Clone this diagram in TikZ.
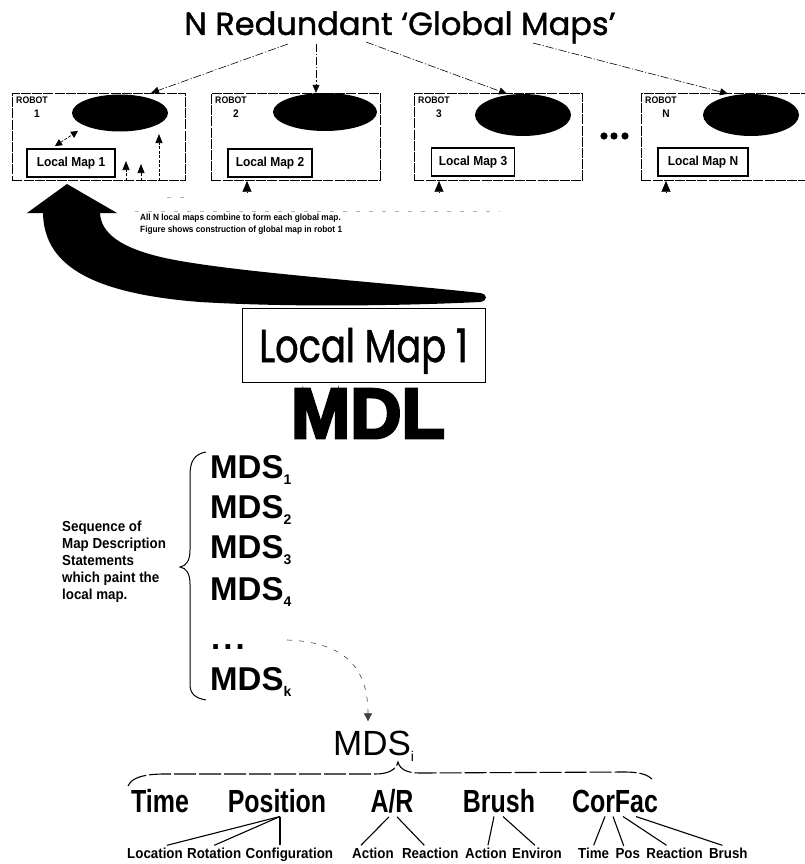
\documentclass[tikz,border=0pt]{standalone}
\usepackage{fontspec}
\setmainfont{Liberation Sans}
\newfontfamily\geofont[UprightFeatures={FakeBold=1.2}]{Poppins}
\newfontfamily\narrowbold[FakeStretch=0.92]{Liberation Sans}
\newfontfamily\childfont[FakeStretch=0.78]{Liberation Sans}
\newfontfamily\heavyfont[BoldFeatures={FakeBold=4}]{Liberation Sans}
\usetikzlibrary{shapes.geometric,arrows.meta}

\newcommand\lowsub[1]{\raisebox{-6pt}{\fontsize{14}{14}\selectfont #1}}

\begin{document}
\begin{tikzpicture}[x=1pt,y=-1pt,
  robotbox/.style={draw, line width=0.9pt, dash pattern=on 10pt off 1.2pt, inner sep=0pt, anchor=north west, minimum height=87pt},
  globalmap/.style={ellipse, fill=black, inner sep=0pt},
  mapbox/.style={draw, line width=1.8pt, inner sep=0pt, minimum height=28pt, font=\narrowbold\bfseries\fontsize{13}{13}\selectfont},
  robotlbl/.style={inner sep=0pt, font=\narrowbold\bfseries\fontsize{9.5}{9.5}\selectfont},
  robotnum/.style={inner sep=0pt, font=\narrowbold\bfseries\fontsize{11}{11}\selectfont},
  gline/.style={line width=0.6pt, dash pattern=on 8pt off 2pt on 1.2pt off 2pt, -{Triangle[length=8pt,width=7pt]}},
  feed/.style={line width=0.7pt, dash pattern=on 3pt off 1.5pt},
  intip/.style={-{Triangle[length=11pt,width=9pt]}},
  mdsrow/.style={anchor=base west, inner sep=0pt, font=\bfseries\fontsize{33}{33}\selectfont},
  field/.style={anchor=base, inner sep=0pt, font=\childfont\bfseries\fontsize{32}{32}\selectfont},
  subfield/.style={anchor=base west, inner sep=0pt, font=\narrowbold\bfseries\fontsize{14.5}{14.5}\selectfont},
  branch/.style={line width=1.1pt},
]
\useasboundingbox (0,0) rectangle (805,864);

% ---------- title ----------
\node[anchor=base, inner sep=0pt, font=\geofont\fontsize{32}{32}\selectfont] (title) at (400,35) {N Redundant ‘Global Maps’};

% ---------- robots ----------
\node[robotbox, minimum width=173pt] (r1) at (12,93) {};
\node[robotbox, minimum width=169pt] (r2) at (211,93) {};
\node[robotbox, minimum width=168pt] (r3) at (414,93) {};
\node[robotbox, minimum width=170pt] (rN) at (641,93) {};

\node[globalmap, minimum width=96pt, minimum height=37pt] (g1) at (120,113) {};
\node[globalmap, minimum width=104pt, minimum height=38pt] (g2) at (325,112) {};
\node[globalmap, minimum width=96pt, minimum height=42pt] (g3) at (523,115) {};
\node[globalmap, minimum width=96pt, minimum height=42pt] (gN) at (751,115) {};

\foreach \b/\n in {r1/1, r2/2, r3/3, rN/N} {
  \node[robotlbl, anchor=north west] at ([xshift=4pt,yshift=-4pt]\b.north west) {ROBOT};
  \node[robotnum, anchor=north] at ([xshift=25pt,yshift=-17pt]\b.north west) {\n};
}

\node[mapbox, minimum width=88pt] (lm1) at (71,163) {Local Map 1};
\node[mapbox, minimum width=84pt] (lm2) at (270,163) {Local Map 2};
\node[mapbox, minimum width=83pt] (lm3) at (473,162) {Local Map 3};
\node[mapbox, minimum width=90pt] (lmN) at (703,162) {Local Map N};

% ellipsis between robot 3 and robot N
\foreach \x in {604,614,625} \fill (\x,136) circle (3.6pt);

% ---------- links from the title to each global map ----------
\coordinate (t1) at (288,44);
\coordinate (t2) at (316,44);
\coordinate (t3) at (366,42);
\coordinate (t4) at (533,43);
\draw[gline] (t1) -- ([xshift=139pt]r1.north west);
\draw[gline] (t2) -- ([xshift=-9pt]g2.north);
\draw[gline] (t3) -- ([xshift=-16pt]g3.north);
\draw[gline] (t4) -- ([xshift=-23pt]gN.north);

% ---------- construction of the global map in robot 1 ----------
\coordinate (d1) at (55,146);
\coordinate (d2) at (78,131);
\draw[feed, {Triangle[length=7pt,width=7pt]}-{Triangle[length=7pt,width=7pt]}] (d1) -- (d2);
\coordinate (u1) at (126,161);
\coordinate (u2) at (141,164);
\coordinate (u3) at (159,134);
\draw[feed, -{Triangle[length=9pt,width=7pt]}] ([xshift=114pt]r1.south west) -- (u1);
\draw[feed, -{Triangle[length=9pt,width=7pt]}] ([xshift=129pt]r1.south west) -- (u2);
\draw[feed, -{Triangle[length=9pt,width=7pt]}] ([xshift=147pt]r1.south west) -- (u3);

\coordinate (s2) at (247,192);
\coordinate (s3) at (439,192);
\coordinate (sN) at (666,192);
\draw[intip] (s2) -- ([xshift=36pt]r2.south west);
\draw[intip] (s3) -- ([xshift=25pt]r3.south west);
\draw[intip] (sN) -- ([xshift=25pt]rN.south west);

\draw[gray!60, line width=0.6pt, dash pattern=on 4pt off 9pt] (135,211) -- (500,211);
\draw[gray!60, line width=0.6pt, dash pattern=on 4pt off 9pt] (167,197) -- (190,197);

\node[anchor=north west, inner sep=0pt, align=left, font=\narrowbold\bfseries\fontsize{9}{11.5}\selectfont] (note) at (140,214)
  {All N local maps combine to form each global map.\\Figure shows construction of global map in robot 1};

% ---------- big curved arrow ----------
\fill (480,293) .. controls (380,282) and (230,272) .. (165,258)
  .. controls (120,248) and (101,233) .. (100,213)
  -- (117,213) -- (67,184) -- (27,213) -- (43,213)
  .. controls (44,262) and (85,293) .. (200,302)
  .. controls (300,308) and (420,305) .. (480,302)
  .. controls (488,301) and (488,294) .. (480,293) -- cycle;

% ---------- local map 1 and MDL ----------
\node[draw, line width=1pt, minimum width=243pt, minimum height=74pt, inner sep=0pt,
      text height=34pt, text depth=0pt, font=\geofont\fontsize{46}{46}\selectfont] (lmbig) at (363.5,345)
  {\scalebox{0.8}[1]{Local Map 1}};
\node[anchor=base, inner sep=0pt, font=\heavyfont\bfseries\fontsize{71}{71}\selectfont] (mdl) at (368,438) {MDL};

% ---------- sequence of statements ----------
\node[mdsrow] (mds1) at (210,478) {MDS\lowsub{1}};
\node[mdsrow] (mds2) at (210,518) {MDS\lowsub{2}};
\node[mdsrow] (mds3) at (210,558) {MDS\lowsub{3}};
\node[mdsrow] (mds4) at (210,600) {MDS\lowsub{4}};
\node[mdsrow] (mdsdots) at (211,649) {.\hspace{3pt}.\hspace{3pt}.};
\node[mdsrow] (mdsk) at (210,690) {MDS\lowsub{k}};

\draw[line width=1pt] (206,452) .. controls (194,454) and (190,462) .. (190,475) -- (190,550)
  .. controls (190,561) and (186,566) .. (180,567) .. controls (186,568) and (190,573) .. (190,584)
  -- (190,684) .. controls (190,694) and (195,698) .. (206,700);

\node[anchor=north west, inner sep=0pt, align=left, font=\narrowbold\bfseries\fontsize{14.5}{17}\selectfont] (seq) at (62,521)
  {Sequence of\\Map Description\\Statements\\which paint the\\local map.};

% ---------- one statement expanded ----------
\node[anchor=base west, inner sep=0pt, font=\fontsize{35}{35}\selectfont] (mdsi) at (333,755) {MDS\lowsub{i}};
\coordinate (kk) at (287,640);
\draw[black!75, line width=0.6pt, dash pattern=on 5pt off 7pt, -{Triangle[length=8pt,width=8pt]}]
  (kk) .. controls (345,642) and (368,668) .. ([xshift=35pt,yshift=9pt]mdsi.north west);

\draw[line width=1.1pt, dash pattern=on 22pt off 3pt] (128,786) .. controls (132,777) and (145,774) .. (165,774)
  -- (375,774) .. controls (388,774) and (396,770) .. (398,762)
  .. controls (400,770) and (408,773) .. (420,773) -- (625,772)
  .. controls (640,772) and (648,775) .. (652,779);

\node[field] (time) at (160,812) {Time};
\node[field] (pos) at (277,812) {Position};
\node[field] (ar) at (392,812) {A/R};
\node[field] (brush) at (499,812) {Brush};
\node[field] (corfac) at (615,812) {CorFac};

\node[subfield] (loc) at (127,858) {Location};
\node[subfield] (rot) at ([xshift=4pt]loc.base east) {Rotation};
\node[subfield] (conf) at ([xshift=4pt]rot.base east) {Configuration};
\node[subfield] (act1) at (352,858) {Action};
\node[subfield] (react1) at ([xshift=8pt]act1.base east) {Reaction};
\node[subfield] (act2) at (465,858) {Action};
\node[subfield] (env) at ([xshift=5pt]act2.base east) {Environ};
\node[subfield] (ctime) at (578,858) {Time};
\node[subfield] (cpos) at ([xshift=6pt]ctime.base east) {Pos};
\node[subfield] (creact) at ([xshift=6pt]cpos.base east) {Reaction};
\node[subfield] (cbrush) at ([xshift=6pt]creact.base east) {Brush};

\coordinate (pj) at ([xshift=3pt,yshift=-4pt]pos.south);
\draw[branch] (pj) -- ([xshift=12pt,yshift=2pt]loc.north);
\draw[branch] (pj) -- ([yshift=2pt]rot.north);
\draw[branch] (pj) -- ([yshift=2pt]conf.north -| pj);

\draw[branch] ([xshift=-3pt,yshift=-4pt]ar.south) -- ([xshift=-12pt,yshift=2pt]act1.north);
\draw[branch] ([xshift=5pt,yshift=-4pt]ar.south) -- ([xshift=-6pt,yshift=2pt]react1.north);

\draw[branch] ([xshift=-5pt,yshift=-4pt]brush.south) -- ([xshift=2pt,yshift=2pt]act2.north);
\draw[branch] ([xshift=4pt,yshift=-4pt]brush.south) -- ([xshift=-2pt,yshift=2pt]env.north);

\draw[branch] ([xshift=-10pt,yshift=-4pt]corfac.south) -- ([yshift=2pt]ctime.north);
\draw[branch] ([xshift=-2pt,yshift=-4pt]corfac.south) -- ([xshift=-4pt,yshift=2pt]cpos.north);
\draw[branch] ([xshift=8pt,yshift=-4pt]corfac.south) -- ([xshift=-8pt,yshift=2pt]creact.north);
\draw[branch] ([xshift=21pt,yshift=-4pt]corfac.south) -- ([xshift=-6pt,yshift=2pt]cbrush.north);
\end{tikzpicture}
\end{document}
